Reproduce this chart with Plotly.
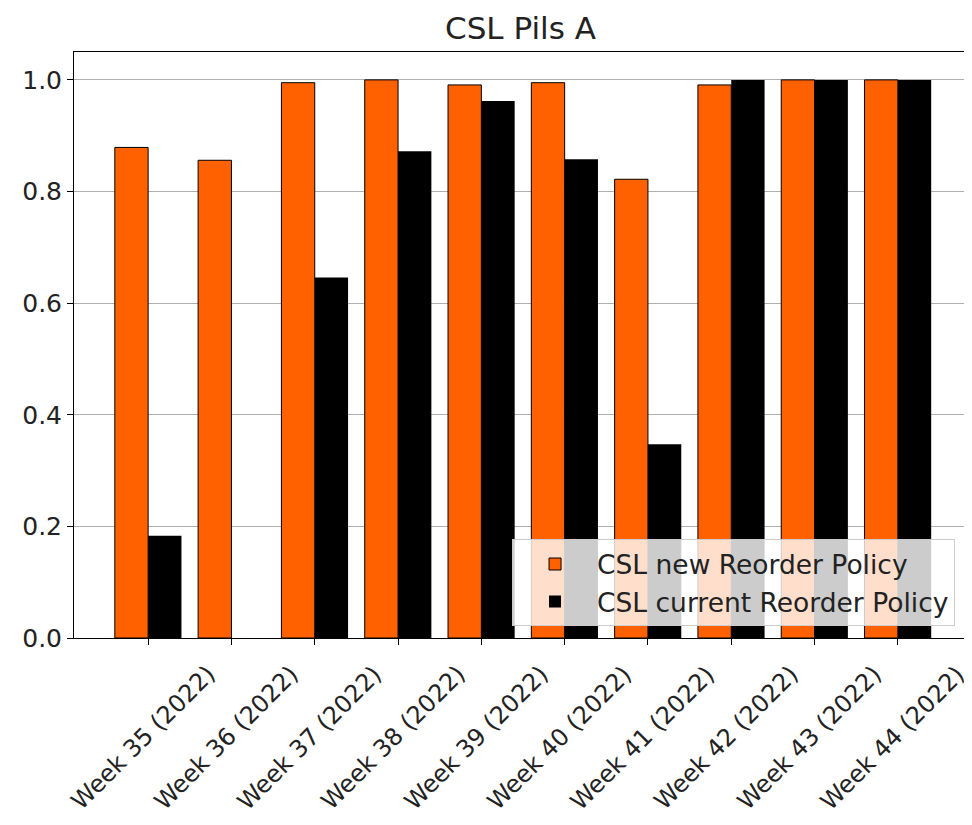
import plotly.graph_objects as go

weeks = ["Week 35 (2022)", "Week 36 (2022)", "Week 37 (2022)", "Week 38 (2022)", "Week 39 (2022)",
         "Week 40 (2022)", "Week 41 (2022)", "Week 42 (2022)", "Week 43 (2022)", "Week 44 (2022)"]
new_policy = [0.879, 0.856, 0.995, 1.0, 0.991, 0.995, 0.822, 0.991, 1.0, 1.0]
current_policy = [0.183, 0.0, 0.646, 0.872, 0.962, 0.858, 0.347, 1.0, 1.0, 1.0]
y_ticks = [0, 0.2, 0.4, 0.6, 0.8, 1.0]
y_tick_labels = ["0.0", "0.2", "0.4", "0.6", "0.8", "1.0"]

font = "DejaVu Sans, sans-serif"
txt = "#222222"

fig = go.Figure()
fig.add_trace(go.Bar(x=weeks, y=new_policy, name="CSL new Reorder Policy",
                     marker=dict(color="#ff6100", line=dict(color="black", width=1))))
fig.add_trace(go.Bar(x=weeks, y=current_policy, name="CSL current Reorder Policy",
                     marker=dict(color="black", line=dict(color="black", width=0))))

# rotated tick labels centred under each tick (matplotlib style)
for w in weeks:
    fig.add_annotation(x=w, xref="x", y=0, yref="paper", yshift=-20, xshift=-5,
                       text=w, textangle=-45, showarrow=False,
                       xanchor="center", yanchor="top",
                       font=dict(family=font, size=24, color=txt))

fig.update_layout(
    width=964, height=817,
    margin=dict(l=66, r=5, t=44, b=187),
    paper_bgcolor="white", plot_bgcolor="white",
    barmode="group", bargap=0.2, bargroupgap=0,
    font=dict(family=font, size=25, color=txt),
    title=dict(text="CSL Pils A", x=0.5, xref="paper", xanchor="center", y=0.9755, yanchor="middle",
               font=dict(family=font, size=31, color=txt)),
    legend=dict(x=0.9866, xanchor="right", y=0.02, yanchor="bottom",
                bgcolor="rgba(255,255,255,0.8)", bordercolor="#cccccc", borderwidth=1,
                font=dict(family=font, size=26.5, color=txt), traceorder="normal",
                itemwidth=74),
    xaxis=dict(range=[-0.89, 9.83], showticklabels=False, showline=True, mirror=True,
               linecolor="black", linewidth=1, ticks="outside", ticklen=6, tickcolor="black",
               showgrid=False),
    yaxis=dict(range=[0, 1.05], tickvals=y_ticks, ticktext=y_tick_labels,
               showline=True, mirror=True, linecolor="black", linewidth=1,
               ticks="outside", ticklen=6, tickcolor="black",
               showgrid=True, gridcolor="#b0b0b0", gridwidth=1, zeroline=False,
               tickfont=dict(family=font, size=25, color=txt)),
)

fig.write_html("out.html")
